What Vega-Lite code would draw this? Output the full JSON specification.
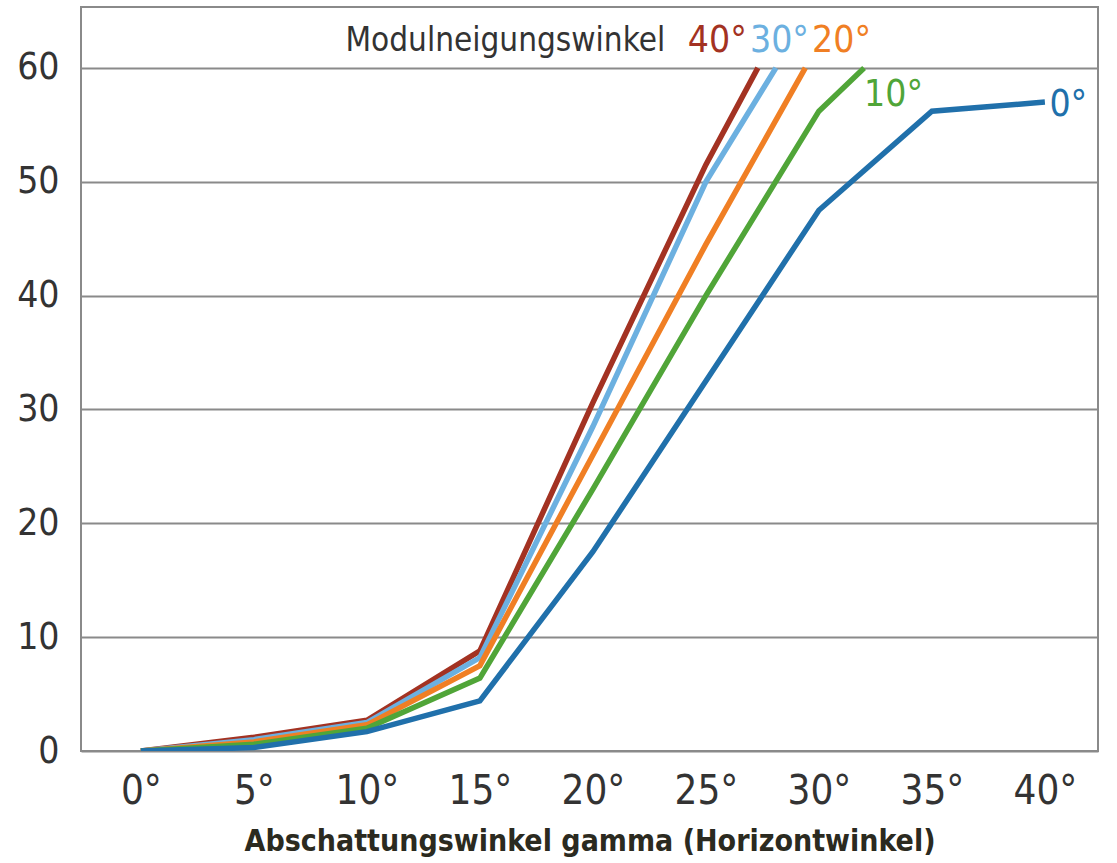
{
  "$schema": "https://vega.github.io/schema/vega-lite/v6.json",
  "width": 1017,
  "height": 744,
  "autosize": {"type": "none"},
  "padding": {"left": 81, "top": 7, "right": 19, "bottom": 112},
  "background": "white",
  "config": {
    "font": "DejaVu Sans Condensed, sans-serif",
    "view": {"stroke": "#8a8a8a", "strokeWidth": 2}
  },
  "datasets": {
    "lines": [
      {"series": "40°", "gamma": 0, "value": 0},
      {"series": "40°", "gamma": 5, "value": 1.2},
      {"series": "40°", "gamma": 10, "value": 2.7},
      {"series": "40°", "gamma": 15, "value": 8.8},
      {"series": "40°", "gamma": 20, "value": 30.6},
      {"series": "40°", "gamma": 25, "value": 51.5},
      {"series": "40°", "gamma": 27.3, "value": 60},
      {"series": "30°", "gamma": 0, "value": 0},
      {"series": "30°", "gamma": 5, "value": 1.0},
      {"series": "30°", "gamma": 10, "value": 2.5},
      {"series": "30°", "gamma": 15, "value": 8.2},
      {"series": "30°", "gamma": 20, "value": 28.5},
      {"series": "30°", "gamma": 25, "value": 50},
      {"series": "30°", "gamma": 28.1, "value": 60},
      {"series": "20°", "gamma": 0, "value": 0},
      {"series": "20°", "gamma": 5, "value": 0.8},
      {"series": "20°", "gamma": 10, "value": 2.3},
      {"series": "20°", "gamma": 15, "value": 7.5},
      {"series": "20°", "gamma": 20, "value": 26},
      {"series": "20°", "gamma": 25, "value": 44.5},
      {"series": "20°", "gamma": 29.4, "value": 60},
      {"series": "10°", "gamma": 0, "value": 0},
      {"series": "10°", "gamma": 5, "value": 0.6},
      {"series": "10°", "gamma": 10, "value": 2.0},
      {"series": "10°", "gamma": 15, "value": 6.4},
      {"series": "10°", "gamma": 20, "value": 23},
      {"series": "10°", "gamma": 25, "value": 40},
      {"series": "10°", "gamma": 30, "value": 56.2},
      {"series": "10°", "gamma": 32, "value": 60},
      {"series": "0°", "gamma": 0, "value": 0},
      {"series": "0°", "gamma": 5, "value": 0.3},
      {"series": "0°", "gamma": 10, "value": 1.7},
      {"series": "0°", "gamma": 15, "value": 4.4},
      {"series": "0°", "gamma": 20, "value": 17.5},
      {"series": "0°", "gamma": 25, "value": 32.5},
      {"series": "0°", "gamma": 30, "value": 47.5},
      {"series": "0°", "gamma": 35, "value": 56.2},
      {"series": "0°", "gamma": 40, "value": 57}
    ],
    "labels": [
      {"series": "40°", "gamma": 24.2, "value": 62.4},
      {"series": "30°", "gamma": 26.95, "value": 62.4},
      {"series": "20°", "gamma": 29.7, "value": 62.4},
      {"series": "10°", "gamma": 32.0, "value": 57.6},
      {"series": "0°", "gamma": 40.2, "value": 56.7}
    ],
    "title": [
      {"text": "Modulneigungswinkel", "gamma": 23.2, "value": 62.4}
    ]
  },
  "layer": [
    {
      "data": {"name": "lines"},
      "mark": {"type": "line", "strokeWidth": 5.5, "strokeJoin": "miter", "clip": true},
      "encoding": {
        "x": {
          "field": "gamma", "type": "quantitative",
          "scale": {"domain": [-2.65, 42.35], "nice": false, "zero": false},
          "axis": {
            "values": [0, 5, 10, 15, 20, 25, 30, 35, 40],
            "labelExpr": "datum.value + '°'",
            "grid": false, "domain": false, "ticks": false,
            "labelFontSize": 40, "labelColor": "#333333", "labelPadding": 20,
            "title": "Abschattungswinkel gamma (Horizontwinkel)",
            "titleFontSize": 30, "titleFontWeight": "bold", "titleColor": "#2b2a20",
            "titlePadding": 15
          }
        },
        "y": {
          "field": "value", "type": "quantitative",
          "scale": {"domain": [0, 65.35], "nice": false},
          "axis": {
            "values": [0, 10, 20, 30, 40, 50, 60],
            "grid": true, "gridColor": "#8a8a8a", "gridWidth": 2, "gridOpacity": 1,
            "domain": false, "ticks": false,
            "labelFontSize": 37, "labelColor": "#333333", "labelPadding": 22,
            "title": null
          }
        },
        "color": {
          "field": "series", "type": "nominal",
          "scale": {
            "domain": ["40°", "30°", "20°", "10°", "0°"],
            "range": ["#a33222", "#6cb0e0", "#f07f24", "#50a538", "#2070ab"]
          },
          "legend": null
        }
      }
    },
    {
      "data": {"name": "labels"},
      "mark": {"type": "text", "align": "left", "baseline": "middle", "fontSize": 37},
      "encoding": {
        "x": {"field": "gamma", "type": "quantitative"},
        "y": {"field": "value", "type": "quantitative"},
        "text": {"field": "series"},
        "color": {"field": "series", "type": "nominal", "legend": null}
      }
    },
    {
      "data": {"name": "title"},
      "mark": {"type": "text", "align": "right", "baseline": "middle", "fontSize": 33, "color": "#333333"},
      "encoding": {
        "x": {"field": "gamma", "type": "quantitative"},
        "y": {"field": "value", "type": "quantitative"},
        "text": {"field": "text"}
      }
    }
  ]
}
